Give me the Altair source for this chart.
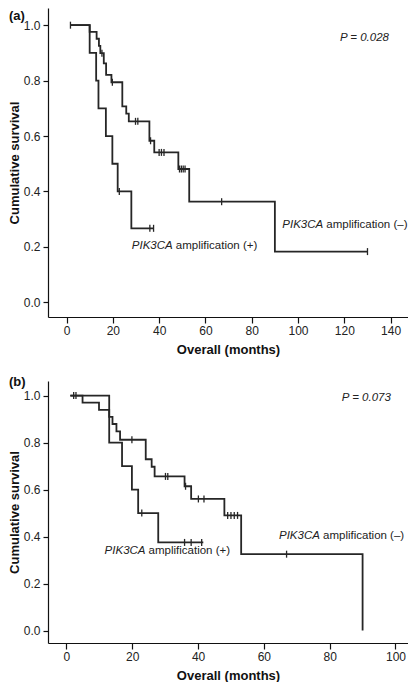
import altair as alt
import pandas as pd

FONT = "Liberation Sans"
INK = "#262626"

# ---------------- Panel (a) ----------------
a_neg_t = [1.7, 10, 13, 14, 14.6, 16.1, 17.1, 19.4, 24.1, 25.8, 26.9, 35.8, 37.9, 48.3, 53, 90, 130]
a_neg_s = [1.0, 0.976, 0.951, 0.925, 0.899, 0.862, 0.821, 0.794, 0.707, 0.681, 0.653, 0.583, 0.541, 0.481, 0.363, 0.183, 0.183]
a_pos_t = [1.7, 10, 12.8, 13.8, 17, 19.8, 22.1, 28, 37.6]
a_pos_s = [1.0, 0.9, 0.8, 0.7, 0.6, 0.5, 0.4, 0.267, 0.267]
a_cens_t = [1.7, 15.3, 19.8, 29.8, 30.8, 36.3, 40, 41, 42.1, 48.8, 49.6, 50.4, 51.2, 67, 130,
            22.8, 36, 37.6]
a_cens_s = [1.0, 0.899, 0.794, 0.653, 0.653, 0.583, 0.541, 0.541, 0.541, 0.481, 0.481, 0.481, 0.481, 0.363, 0.183,
            0.4, 0.267, 0.267]
a_x_ticks = [0, 20, 40, 60, 80, 100, 120, 140]
a_x_domain = [-8, 147.5]
a_p_text = "P = 0.028"
a_p_pos = [139.3, 0.955]
a_lab_pos = [28.2, 0.205]   # (+) label start
a_lab_neg = [93.2, 0.279]   # (–) label start

# ---------------- Panel (b) ----------------
b_neg_t = [1.2, 4.9, 9.9, 13, 14, 15.2, 16.3, 24.1, 25.9, 26.8, 35.9, 37.9, 48, 53.1, 90]
b_neg_s = [1.0, 0.970, 0.939, 0.909, 0.879, 0.848, 0.812, 0.729, 0.697, 0.656, 0.614, 0.56, 0.49, 0.325, 0.0]
b_pos_t = [1.2, 13, 16.9, 19.9, 21.8, 27.9, 41.6]
b_pos_s = [1.0, 0.8, 0.7, 0.6, 0.5, 0.375, 0.375]
b_cens_t = [2.2, 2.9, 19.9, 30.1, 30.8, 36.2, 40.1, 41.8, 49, 50, 51, 52, 66.9,
            22.9, 35.9, 37.9, 41.1]
b_cens_s = [1.0, 1.0, 0.812, 0.656, 0.656, 0.614, 0.56, 0.56, 0.49, 0.49, 0.49, 0.49, 0.325,
            0.5, 0.375, 0.375, 0.375]
b_x_ticks = [0, 20, 40, 60, 80, 100]
b_x_domain = [-5.6, 103.8]
b_p_text = "P = 0.073"
b_p_pos = [98.6, 0.99]
b_lab_pos = [11.6, 0.3375]
b_lab_neg = [64.6, 0.403]

y_ticks = [0.0, 0.2, 0.4, 0.6, 0.8, 1.0]
y_domain = [-0.053, 1.062]


def panel(tag, neg_t, neg_s, pos_t, pos_s, cens_t, cens_s, x_ticks, x_domain,
          p_text, p_pos, lab_pos, lab_neg, height, tag_y):
    curves = pd.DataFrame({
        "t": neg_t + pos_t,
        "s": neg_s + pos_s,
        "g": ["neg"] * len(neg_t) + ["pos"] * len(pos_t),
    })
    cens = pd.DataFrame({"t": cens_t, "s": cens_s})

    xs = alt.Scale(domain=x_domain, nice=False, zero=False)
    ys = alt.Scale(domain=y_domain, nice=False, zero=False)
    xax = alt.Axis(values=x_ticks, title="Overall (months)", grid=False,
                   labelFont=FONT, titleFont=FONT, labelFontSize=12, titleFontSize=13,
                   titleFontWeight="bold", titleColor="#111", labelColor="#222",
                   domainColor="#111", tickColor="#111", tickSize=6, labelPadding=2,
                   titlePadding=7, domainWidth=1.2, tickWidth=1.2)
    yax = alt.Axis(values=y_ticks, format=".1f", title="Cumulative survival", grid=False,
                   labelFont=FONT, titleFont=FONT, labelFontSize=12, titleFontSize=13,
                   titleFontWeight="bold", titleColor="#111", labelColor="#222",
                   domainColor="#111", tickColor="#111", tickSize=5, labelPadding=3,
                   titlePadding=2, domainWidth=1.2, tickWidth=1.2)

    lines = alt.Chart(curves).mark_line(interpolate="step-after", color=INK, strokeWidth=1.8).encode(
        x=alt.X("t:Q", scale=xs, axis=xax),
        y=alt.Y("s:Q", scale=ys, axis=yax),
        detail="g:N",
    )
    ticks = alt.Chart(cens).mark_point(shape="M0,-1L0,1", size=49, strokeWidth=1.3,
                                       color=INK, filled=False, opacity=1).encode(
        x=alt.X("t:Q", scale=xs), y=alt.Y("s:Q", scale=ys))

    ann = pd.DataFrame({
        "t": [lab_pos[0], lab_neg[0]],
        "s": [lab_pos[1], lab_neg[1]],
        "it": ["PIK3CA", "PIK3CA"],
        "rest": ["amplification (+)", "amplification (–)"],
    })
    it_text = alt.Chart(ann).mark_text(align="left", baseline="middle", font=FONT, fontSize=11.5,
                                       fontStyle="italic", color="#222").encode(
        x=alt.X("t:Q", scale=xs), y=alt.Y("s:Q", scale=ys), text="it:N")
    rest_text = alt.Chart(ann).mark_text(align="left", baseline="middle", font=FONT, fontSize=11.5,
                                         dx=44, color="#222").encode(
        x=alt.X("t:Q", scale=xs), y=alt.Y("s:Q", scale=ys), text="rest:N")

    pdf = pd.DataFrame({"t": [p_pos[0]], "s": [p_pos[1]], "txt": [p_text]})
    p_mark = alt.Chart(pdf).mark_text(align="right", baseline="middle", font=FONT, fontSize=11.5,
                                      fontStyle="italic", color="#222").encode(
        x=alt.X("t:Q", scale=xs), y=alt.Y("s:Q", scale=ys), text="txt:N")

    tdf = pd.DataFrame({"lab": [tag]})
    tag_mark = alt.Chart(tdf).mark_text(align="left", baseline="top", font=FONT, fontSize=13,
                                        fontWeight="bold", color="#111").encode(
        text="lab:N", x=alt.value(-39), y=alt.value(tag_y))

    return alt.layer(lines, ticks, it_text, rest_text, p_mark, tag_mark).properties(
        width=360, height=height)


pa = panel("(a)", a_neg_t, a_neg_s, a_pos_t, a_pos_s, a_cens_t, a_cens_s, a_x_ticks, a_x_domain,
           a_p_text, a_p_pos, a_lab_pos, a_lab_neg, 309, 2)
pb = panel("(b)", b_neg_t, b_neg_s, b_pos_t, b_pos_s, b_cens_t, b_cens_s, b_x_ticks, b_x_domain,
           b_p_text, b_p_pos, b_lab_pos, b_lab_neg, 262, -5)

chart = alt.vconcat(pa, pb, spacing=20).properties(padding=0).configure_view(stroke=None)

chart.save("out.html", embed_options={"renderer": "svg", "actions": False})
